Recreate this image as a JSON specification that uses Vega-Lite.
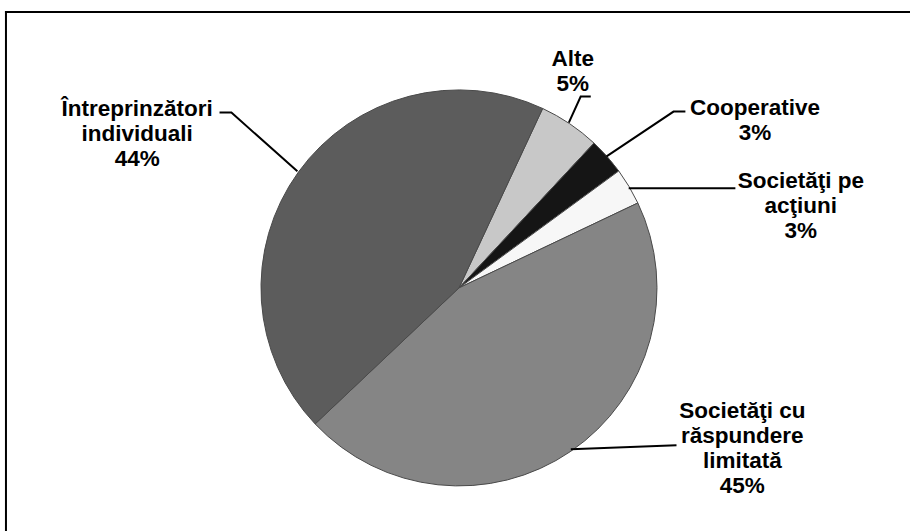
{
  "$schema": "https://vega.github.io/schema/vega-lite/v6.json",
  "width": 911,
  "height": 532,
  "autosize": {"type": "fit", "contains": "padding"},
  "padding": 0,
  "background": "white",
  "config": {"view": {"stroke": null}},
  "datasets": {
    "slices": [
      {"k": 1, "forma": "Alte", "pct": 5},
      {"k": 2, "forma": "Cooperative", "pct": 3},
      {"k": 3, "forma": "Societăţi pe acţiuni", "pct": 3},
      {"k": 4, "forma": "Societăţi cu răspundere limitată", "pct": 45},
      {"k": 5, "forma": "Întreprinzători individuali", "pct": 44}
    ],
    "labels": [
      {"forma": "Alte", "text": "Alte\n5%", "x": 0.576, "y": 1.215},
      {"forma": "Cooperative", "text": "Cooperative\n3%", "x": 1.498, "y": 0.97},
      {"forma": "Societăţi pe acţiuni", "text": "Societăţi pe\nacţiuni\n3%", "x": 1.73, "y": 0.596},
      {"forma": "Societăţi cu răspundere limitată", "text": "Societăţi cu\nrăspundere\nlimitată\n45%", "x": 1.434, "y": -0.57},
      {"forma": "Întreprinzători individuali", "text": "Întreprinzători\nindividuali\n44%", "x": -1.629, "y": 0.964}
    ],
    "leaders": [
      {"forma": "Întreprinzători individuali", "i": 1, "x": -1.212, "y": 0.889},
      {"forma": "Întreprinzători individuali", "i": 2, "x": -1.152, "y": 0.889},
      {"forma": "Întreprinzători individuali", "i": 3, "x": -0.818, "y": 0.591},
      {"forma": "Alte", "i": 1, "x": 0.667, "y": 0.97},
      {"forma": "Alte", "i": 2, "x": 0.616, "y": 0.97},
      {"forma": "Alte", "i": 3, "x": 0.556, "y": 0.838},
      {"forma": "Cooperative", "i": 1, "x": 1.146, "y": 0.894},
      {"forma": "Cooperative", "i": 2, "x": 1.086, "y": 0.894},
      {"forma": "Cooperative", "i": 3, "x": 0.747, "y": 0.667},
      {"forma": "Societăţi pe acţiuni", "i": 1, "x": 0.859, "y": 0.505},
      {"forma": "Societăţi pe acţiuni", "i": 2, "x": 1.399, "y": 0.505},
      {"forma": "Societăţi cu răspundere limitată", "i": 1, "x": 0.566, "y": -0.818},
      {"forma": "Societăţi cu răspundere limitată", "i": 2, "x": 1.101, "y": -0.798}
    ],
    "frame": [{"edge": "frame"}]
  },
  "layer": [
    {
      "data": {"name": "slices"},
      "mark": {"type": "arc", "radius": 198, "stroke": "#4a4a4a", "strokeWidth": 1},
      "encoding": {
        "x": {"datum": 0, "type": "quantitative", "scale": {"domain": [-2.3232, 2.2778], "nice": false, "zero": false}, "axis": null},
        "y": {"datum": 0, "type": "quantitative", "scale": {"domain": [-1.2273, 1.4596], "nice": false, "zero": false}, "axis": null},
        "theta": {"field": "pct", "type": "quantitative", "stack": true, "scale": {"range": [0.4363, 6.7195]}},
        "order": {"field": "k", "type": "quantitative"},
        "color": {
          "field": "forma", "type": "nominal", "legend": null,
          "scale": {
            "domain": ["Alte", "Cooperative", "Societăţi pe acţiuni", "Societăţi cu răspundere limitată", "Întreprinzători individuali"],
            "range": ["#c8c8c8", "#151515", "#f7f7f7", "#858585", "#5c5c5c"]
          }
        }
      }
    },
    {
      "data": {"name": "leaders"},
      "mark": {"type": "line", "color": "black"},
      "encoding": {
        "x": {"field": "x", "type": "quantitative", "scale": {"domain": [-2.3232, 2.2778], "nice": false, "zero": false}, "axis": null},
        "y": {"field": "y", "type": "quantitative", "scale": {"domain": [-1.2273, 1.4596], "nice": false, "zero": false}, "axis": null},
        "detail": {"field": "forma", "type": "nominal"},
        "order": {"field": "i", "type": "quantitative"},
        "strokeWidth": {
          "field": "forma", "type": "nominal", "legend": null,
          "scale": {
            "domain": ["Alte", "Cooperative", "Societăţi pe acţiuni", "Societăţi cu răspundere limitată", "Întreprinzători individuali"],
            "range": [2, 2, 3.5, 2, 2]
          }
        }
      }
    },
    {
      "data": {"name": "labels"},
      "mark": {"type": "text", "font": "Liberation Sans", "fontWeight": "bold", "fontSize": 22.5, "lineHeight": 25, "lineBreak": "\n", "align": "center", "baseline": "top", "color": "black"},
      "encoding": {
        "x": {"field": "x", "type": "quantitative", "scale": {"domain": [-2.3232, 2.2778], "nice": false, "zero": false}, "axis": null},
        "y": {"field": "y", "type": "quantitative", "scale": {"domain": [-1.2273, 1.4596], "nice": false, "zero": false}, "axis": null},
        "text": {"field": "text", "type": "nominal"}
      }
    },
    {
      "data": {"name": "frame"},
      "mark": {"type": "rule", "color": "black", "strokeWidth": 2, "strokeCap": "square"},
      "encoding": {
        "x": {"datum": -2.293, "type": "quantitative", "scale": {"domain": [-2.3232, 2.2778], "nice": false, "zero": false}, "axis": null},
        "x2": {"datum": 2.2778},
        "y": {"datum": 1.399, "type": "quantitative", "scale": {"domain": [-1.2273, 1.4596], "nice": false, "zero": false}, "axis": null}
      }
    },
    {
      "data": {"name": "frame"},
      "mark": {"type": "rule", "color": "black", "strokeWidth": 2, "strokeCap": "square"},
      "encoding": {
        "x": {"datum": -2.293, "type": "quantitative", "scale": {"domain": [-2.3232, 2.2778], "nice": false, "zero": false}, "axis": null},
        "y": {"datum": 1.399, "type": "quantitative", "scale": {"domain": [-1.2273, 1.4596], "nice": false, "zero": false}, "axis": null},
        "y2": {"datum": -1.2273}
      }
    }
  ]
}
